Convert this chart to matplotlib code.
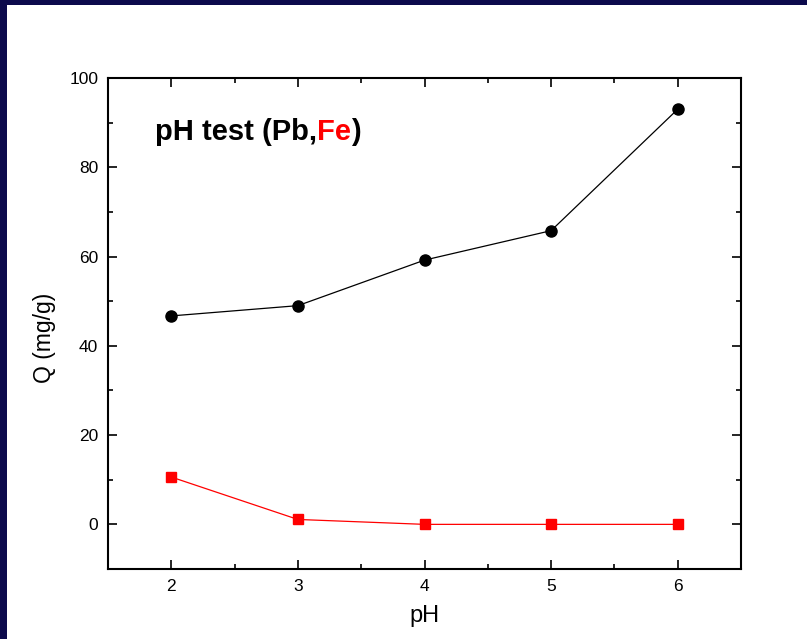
import numpy as np
import matplotlib.pyplot as plt
from matplotlib.patches import Rectangle
from matplotlib.ticker import MultipleLocator

# Data
ph = [2, 3, 4, 5, 6]
q_pb = [46.7, 49.0, 59.2, 65.8, 93.0]
q_fe = [10.6, 1.1, 0.0, 0.0, 0.0]

plt.rcParams['font.family'] = ['Liberation Sans', 'DejaVu Sans']

fig = plt.figure(figsize=(8.07, 6.39), dpi=100, facecolor='#0c0a4c')
# white slide area inside the navy frame
fig.patches.append(Rectangle((7 / 807, 0), 1, 1 - 5 / 639, transform=fig.transFigure,
                             facecolor='white', edgecolor='none', zorder=-10))

ax = fig.add_axes([108 / 807, 1 - 569 / 639, 633 / 807, 491 / 639])
ax.set_zorder(5)
ax.plot(ph, q_pb, color='black', lw=0.9, marker='o', ms=8)
ax.plot(ph, q_fe, color='red', lw=0.9, marker='s', ms=6.5)

ax.set_xlim(1.5, 6.5)
ax.set_ylim(-10, 100)
ax.xaxis.set_major_locator(MultipleLocator(1))
ax.xaxis.set_minor_locator(MultipleLocator(0.5))
ax.yaxis.set_major_locator(MultipleLocator(20))
ax.yaxis.set_minor_locator(MultipleLocator(10))
ax.tick_params(which='both', direction='in', top=True, right=True, width=1.2, labelsize=12.5, pad=7)
ax.tick_params(which='major', length=6.5)
ax.tick_params(which='minor', length=3.5)
for s in ax.spines.values():
    s.set_linewidth(1.5)

ax.set_xlabel('pH', fontsize=17, labelpad=8)
ax.set_ylabel('Q (mg/g)', fontsize=16.5)
ax.yaxis.set_label_coords(-0.082, 0.47)

# title-like label with red "Fe"
t1 = ax.text(0.074, 0.874, 'pH test (Pb,', transform=ax.transAxes, fontsize=21,
             fontweight='bold', va='baseline')
t2 = ax.annotate('Fe', xy=(1, 0), xycoords=t1, fontsize=21, fontweight='bold',
                 color='red', va='bottom')
ax.annotate(')', xy=(1, 0), xycoords=t2, fontsize=21, fontweight='bold', va='bottom')

fig.savefig('out.png', dpi=100, facecolor=fig.get_facecolor())
